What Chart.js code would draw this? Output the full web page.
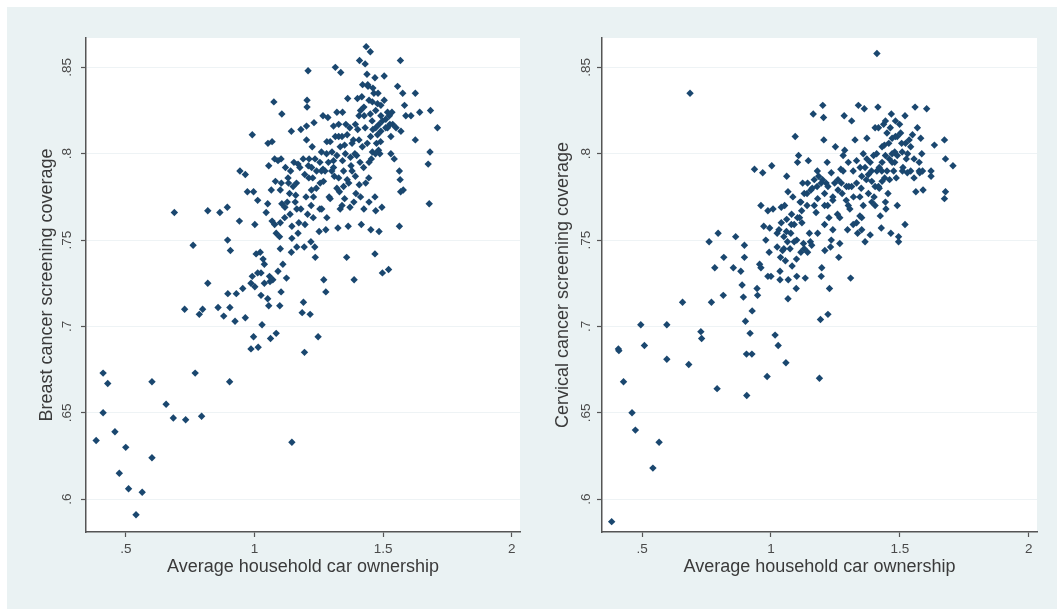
<!DOCTYPE html>
<html>
<head>
<meta charset="utf-8">
<script src="https://cdn.jsdelivr.net/npm/chart.js@4.4.1/dist/chart.umd.min.js"></script>
<style>
  html, body { margin: 0; padding: 0; background: #ffffff; }
  #frame { position: absolute; left: 7px; top: 7px; width: 1050px; height: 602px; background: #eaf2f3; }
  .panel { position: absolute; top: 7px; height: 602px; }
  #leftPanel { left: 7px; width: 523px; }
  #rightPanel { left: 530px; width: 527px; }
</style>
</head>
<body>
<div id="frame"></div>
<div class="panel" id="leftPanel"><canvas id="breastChart"></canvas></div>
<div class="panel" id="rightPanel"><canvas id="cervicalChart"></canvas></div>
<script>
// Dữ liệu: [car ownership, coverage]
const xTitle = 'Average household car ownership';
const breastTitle = 'Breast cancer screening coverage';
const cervicalTitle = 'Cervical cancer screening coverage';
const xTicks = [0.5, 1, 1.5, 2];
const yTicks = [0.6, 0.65, 0.7, 0.75, 0.8, 0.85];

const breastPoints = [
  [0.384,0.634],[0.411,0.673],[0.429,0.667],[0.411,0.650],[0.457,0.639],[0.499,0.630],[0.474,0.615],[0.510,0.606],
  [0.563,0.604],[0.539,0.591],[0.601,0.668],[0.601,0.624],[0.656,0.655],[0.684,0.647],[0.732,0.646],[0.794,0.648],
  [0.769,0.673],[0.688,0.766],[0.761,0.747],[0.728,0.710],[0.798,0.710],[0.785,0.707],[0.818,0.725],[0.818,0.767],
  [0.865,0.766],[0.894,0.769],[0.895,0.750],[0.906,0.744],[0.858,0.711],[0.880,0.706],[0.896,0.719],[0.904,0.711],
  [0.903,0.668],[0.924,0.703],[0.943,0.790],[0.964,0.788],[0.941,0.761],[0.929,0.719],[0.954,0.722],[0.964,0.705],
  [0.972,0.778],[0.996,0.778],[0.986,0.725],[0.991,0.729],[0.991,0.811],[0.996,0.694],[0.986,0.687],[1.014,0.688],
  [1.001,0.759],[1.001,0.723],[1.006,0.742],[1.012,0.731],[1.012,0.773],[1.022,0.743],[1.025,0.718],[1.038,0.736],
  [1.033,0.739],[1.029,0.701],[1.045,0.766],[1.051,0.771],[1.055,0.793],[1.058,0.729],[1.055,0.712],[1.060,0.726],
  [1.052,0.806],[1.068,0.807],[1.062,0.693],[1.084,0.696],[1.075,0.830],[1.081,0.784],[1.065,0.779],[1.068,0.761],
  [1.078,0.759],[1.078,0.797],[1.091,0.796],[1.084,0.754],[1.097,0.752],[1.100,0.745],[1.103,0.720],[1.098,0.712],
  [1.106,0.823],[1.103,0.797],[1.100,0.779],[1.106,0.771],[1.118,0.769],[1.124,0.728],[1.132,0.783],[1.130,0.786],
  [1.138,0.765],[1.143,0.813],[1.145,0.751],[1.145,0.758],[1.145,0.633],[1.153,0.795],[1.158,0.772],[1.164,0.746],
  [1.164,0.768],[1.169,0.794],[1.172,0.760],[1.180,0.814],[1.185,0.708],[1.190,0.714],[1.194,0.685],[1.193,0.746],
  [1.195,0.788],[1.202,0.808],[1.202,0.816],[1.204,0.831],[1.208,0.848],[1.204,0.827],[1.206,0.765],[1.212,0.797],
  [1.211,0.786],[1.216,0.707],[1.219,0.749],[1.221,0.779],[1.224,0.804],[1.226,0.786],[1.229,0.775],[1.231,0.818],
  [1.234,0.746],[1.236,0.740],[1.247,0.694],[1.251,0.755],[1.254,0.768],[1.254,0.795],[1.260,0.801],[1.266,0.822],
  [1.266,0.791],[1.268,0.784],[1.269,0.727],[1.277,0.720],[1.277,0.756],[1.281,0.807],[1.285,0.821],[1.290,0.775],
  [1.294,0.774],[1.307,0.796],[1.310,0.787],[1.314,0.850],[1.320,0.824],[1.324,0.757],[1.327,0.810],[1.330,0.778],
  [1.335,0.847],[1.342,0.796],[1.346,0.790],[1.342,0.824],[1.350,0.774],[1.355,0.817],[1.358,0.740],[1.362,0.832],
  [1.364,0.758],[1.371,0.769],[1.375,0.793],[1.384,0.808],[1.387,0.727],[1.394,0.777],[1.397,0.799],[1.401,0.814],
  [1.408,0.854],[1.407,0.782],[1.412,0.825],[1.415,0.759],[1.417,0.833],[1.424,0.792],[1.426,0.822],[1.430,0.852],
  [1.434,0.862],[1.437,0.846],[1.441,0.839],[1.444,0.786],[1.450,0.859],[1.452,0.756],[1.454,0.797],[1.457,0.819],
  [1.460,0.814],[1.464,0.835],[1.468,0.844],[1.468,0.775],[1.468,0.742],[1.471,0.767],[1.474,0.806],[1.478,0.829],
  [1.482,0.802],[1.484,0.755],[1.487,0.800],[1.491,0.822],[1.495,0.769],[1.497,0.731],[1.504,0.845],[1.510,0.815],
  [1.517,0.824],[1.521,0.733],[1.526,0.817],[1.530,0.810],[1.534,0.824],[1.543,0.797],[1.556,0.839],[1.563,0.758],
  [1.563,0.790],[1.566,0.785],[1.567,0.854],[1.568,0.778],[1.576,0.835],[1.569,0.813],[1.578,0.779],[1.583,0.828],
  [1.588,0.822],[1.608,0.822],[1.625,0.835],[1.625,0.808],[1.642,0.824],[1.675,0.794],[1.679,0.771],[1.682,0.801],
  [1.684,0.825],[1.711,0.815],
  [1.301,0.801],[1.320,0.799],[1.333,0.804],[1.353,0.800],[1.373,0.798],[1.379,0.806],[1.406,0.808],[1.419,0.804],
  [1.438,0.806],[1.451,0.810],[1.471,0.815],[1.491,0.813],[1.497,0.819],[1.517,0.815],[1.524,0.822],[1.537,0.817],
  [1.478,0.811],[1.458,0.801],[1.445,0.795],[1.432,0.783],[1.412,0.775],[1.392,0.787],[1.379,0.790],[1.366,0.783],
  [1.346,0.781],[1.327,0.786],[1.307,0.792],[1.287,0.795],[1.274,0.790],[1.255,0.783],[1.241,0.790],[1.235,0.797],
  [1.222,0.792],[1.209,0.793],[1.189,0.797],[1.176,0.792],[1.163,0.783],[1.150,0.781],[1.136,0.777],[1.127,0.772],
  [1.117,0.763],[1.104,0.783],[1.340,0.810],[1.360,0.811],[1.327,0.817],[1.307,0.816],[1.294,0.807],[1.314,0.810],
  [1.392,0.817],[1.406,0.822],[1.425,0.827],[1.445,0.831],[1.458,0.830],[1.471,0.825],[1.484,0.817],[1.504,0.831],
  [1.491,0.828],[1.051,0.716],[1.071,0.727],[1.091,0.732],[1.110,0.736],[1.025,0.731],[1.038,0.725],[1.143,0.743],
  [1.169,0.754],[1.196,0.759],[1.228,0.763],[1.261,0.768],[1.281,0.763],[1.333,0.768],[1.386,0.772],[1.425,0.768],
  [1.445,0.772],
  [1.350,0.805],[1.370,0.815],[1.390,0.800],[1.410,0.795],[1.430,0.815],[1.450,0.823],[1.470,0.800],[1.490,0.807],
  [1.510,0.820],[1.530,0.800],[1.550,0.815],[1.400,0.832],[1.420,0.840],[1.440,0.840],[1.460,0.838],[1.480,0.835],
  [1.360,0.785],[1.340,0.770],[1.320,0.780],[1.300,0.790],[1.280,0.800],[1.260,0.790],[1.240,0.780],[1.220,0.770],
  [1.200,0.775],[1.180,0.768],[1.160,0.776],[1.140,0.790],[1.120,0.792],[1.100,0.760]
];

const cervicalPoints = [
  [0.382,0.587],[0.408,0.687],[0.410,0.686],[0.428,0.668],[0.461,0.650],[0.474,0.640],[0.566,0.633],[0.542,0.618],
  [0.495,0.701],[0.509,0.689],[0.596,0.701],[0.596,0.681],[0.657,0.714],[0.681,0.678],[0.686,0.835],[0.728,0.697],
  [0.731,0.693],[0.760,0.749],[0.769,0.714],[0.782,0.734],[0.795,0.754],[0.791,0.664],[0.815,0.718],[0.817,0.740],
  [0.854,0.734],[0.863,0.752],[0.883,0.732],[0.888,0.724],[0.893,0.717],[0.897,0.747],[0.897,0.740],[0.901,0.703],
  [0.906,0.660],[0.905,0.684],[0.926,0.684],[0.919,0.696],[0.927,0.709],[0.936,0.791],[0.946,0.722],[0.948,0.718],
  [0.956,0.736],[0.961,0.734],[0.961,0.770],[0.968,0.789],[0.972,0.758],[0.980,0.750],[0.985,0.671],[0.988,0.729],
  [0.988,0.767],[0.993,0.743],[0.995,0.757],[1.000,0.729],[1.003,0.793],[1.008,0.768],[1.016,0.695],[1.024,0.746],
  [1.028,0.689],[1.031,0.756],[1.035,0.732],[1.035,0.727],[1.040,0.769],[1.045,0.744],[1.050,0.752],[1.053,0.770],
  [1.056,0.738],[1.058,0.679],[1.061,0.787],[1.061,0.762],[1.066,0.778],[1.067,0.727],[1.066,0.716],[1.074,0.745],
  [1.079,0.759],[1.082,0.735],[1.085,0.775],[1.094,0.810],[1.098,0.722],[1.099,0.739],[1.100,0.729],[1.103,0.795],
  [1.107,0.799],[1.111,0.763],[1.113,0.772],[1.119,0.767],[1.123,0.783],[1.126,0.748],[1.129,0.745],[1.133,0.728],
  [1.140,0.777],[1.145,0.796],[1.149,0.754],[1.153,0.749],[1.158,0.747],[1.164,0.823],[1.168,0.785],[1.175,0.766],
  [1.179,0.781],[1.185,0.787],[1.188,0.670],[1.192,0.704],[1.195,0.729],[1.197,0.734],[1.201,0.828],[1.204,0.821],
  [1.205,0.808],[1.208,0.770],[1.209,0.744],[1.214,0.783],[1.218,0.795],[1.221,0.707],[1.225,0.763],[1.227,0.722],
  [1.231,0.746],[1.234,0.750],[1.240,0.773],[1.250,0.804],[1.258,0.765],[1.263,0.740],[1.267,0.748],[1.271,0.791],
  [1.276,0.777],[1.284,0.822],[1.286,0.802],[1.292,0.773],[1.297,0.756],[1.302,0.781],[1.309,0.728],[1.313,0.819],
  [1.319,0.759],[1.326,0.808],[1.332,0.796],[1.336,0.754],[1.339,0.828],[1.345,0.775],[1.352,0.763],[1.358,0.800],
  [1.362,0.826],[1.365,0.749],[1.372,0.809],[1.378,0.788],[1.385,0.753],[1.391,0.772],[1.398,0.799],[1.404,0.781],
  [1.411,0.858],[1.415,0.827],[1.417,0.815],[1.420,0.792],[1.424,0.764],[1.428,0.757],[1.431,0.804],[1.437,0.817],
  [1.441,0.786],[1.446,0.768],[1.450,0.812],[1.454,0.777],[1.459,0.797],[1.465,0.754],[1.467,0.823],[1.470,0.809],
  [1.476,0.790],[1.480,0.801],[1.486,0.786],[1.490,0.770],[1.495,0.752],[1.495,0.749],[1.499,0.817],[1.507,0.806],
  [1.512,0.792],[1.520,0.822],[1.520,0.759],[1.525,0.797],[1.536,0.808],[1.542,0.790],[1.549,0.811],[1.555,0.786],
  [1.559,0.827],[1.562,0.778],[1.568,0.815],[1.575,0.795],[1.577,0.789],[1.581,0.809],[1.585,0.800],[1.590,0.779],
  [1.604,0.826],[1.621,0.790],[1.621,0.787],[1.634,0.805],[1.673,0.808],[1.677,0.797],[1.677,0.778],[1.673,0.774],
  [1.706,0.793],
  [1.313,0.781],[1.332,0.783],[1.352,0.787],[1.365,0.792],[1.385,0.795],[1.391,0.784],[1.411,0.790],[1.417,0.781],
  [1.431,0.795],[1.444,0.799],[1.457,0.806],[1.470,0.795],[1.483,0.810],[1.490,0.799],[1.503,0.812],[1.509,0.801],
  [1.522,0.806],[1.529,0.789],[1.542,0.804],[1.555,0.797],[1.575,0.790],[1.588,0.790],[1.431,0.784],[1.444,0.772],
  [1.404,0.770],[1.378,0.777],[1.358,0.770],[1.345,0.764],[1.352,0.756],[1.332,0.760],[1.293,0.781],[1.273,0.783],
  [1.260,0.779],[1.247,0.783],[1.234,0.789],[1.221,0.781],[1.208,0.777],[1.195,0.783],[1.181,0.774],[1.168,0.770],
  [1.155,0.779],[1.142,0.783],[1.129,0.777],[1.116,0.772],[1.103,0.763],[1.090,0.759],[1.077,0.754],[1.064,0.749],
  [1.050,0.745],[1.037,0.740],[1.024,0.754],[1.090,0.749],[1.116,0.743],[1.142,0.743],[1.181,0.754],[1.208,0.759],
  [1.240,0.756],[1.267,0.763],[1.306,0.768],[1.404,0.815],[1.444,0.819],[1.463,0.815],[1.483,0.819],[1.372,0.797],
  [1.346,0.792],[1.319,0.790],[1.300,0.795],[1.280,0.799],
  [1.350,0.780],[1.370,0.785],[1.390,0.790],[1.410,0.800],[1.430,0.790],[1.450,0.790],[1.470,0.800],[1.490,0.810],
  [1.510,0.790],[1.530,0.800],[1.400,0.775],[1.420,0.780],[1.440,0.805],[1.460,0.785],[1.480,0.795],[1.280,0.790],
  [1.260,0.785],[1.240,0.775],[1.220,0.770],[1.200,0.785],[1.180,0.790],[1.160,0.780],[1.140,0.770],[1.120,0.760],
  [1.100,0.750],[1.080,0.765],[1.060,0.755],[1.040,0.760],[1.300,0.770],[1.320,0.775]
];

const markerColor = '#1a476f';
const axisColor = '#555555';
const fontFamily = '"Liberation Sans", Arial, sans-serif';

// Bỏ số 0 đứng đầu kiểu Stata (.5, .85)
const stataLabel = (v) => Number(v.toFixed(2)).toString().replace(/^0\./, '.');

// Nền trắng cho vùng vẽ
const plotBackground = {
  id: 'plotBackground',
  beforeDraw(chart) {
    const { ctx, chartArea: a } = chart;
    ctx.save();
    ctx.fillStyle = '#ffffff';
    ctx.fillRect(a.left, a.top, a.right - a.left, a.bottom - a.top);
    ctx.restore();
  }
};

const buildChart = (canvasId, points, yTitle, opts) => {
  const ctx = document.getElementById(canvasId).getContext('2d');
  return new Chart(ctx, {
    type: 'scatter',
    data: {
      datasets: [{
        data: points.map(p => ({ x: p[0], y: p[1] })),
        pointStyle: 'rectRot',
        pointRadius: 3.7,
        backgroundColor: markerColor,
        borderColor: markerColor,
        borderWidth: 0
      }]
    },
    plugins: [plotBackground],
    options: {
      responsive: true,
      maintainAspectRatio: false,
      animation: false,
      layout: { padding: { left: 0, top: 31, right: opts.rightPad, bottom: 0 } },
      plugins: { legend: { display: false }, tooltip: { enabled: false } },
      scales: {
        x: {
          type: 'linear',
          min: 0.3445,
          max: 2.032,
          afterBuildTicks: (s) => { s.ticks = xTicks.map(v => ({ value: v })); },
          afterFit: (s) => { s.height = 77; },
          ticks: {
            includeBounds: false,
            padding: 4,
            color: '#4a4a4a',
            font: { family: fontFamily, size: 13.5 },
            callback: stataLabel
          },
          grid: { drawOnChartArea: false, tickLength: 5, tickColor: axisColor, tickWidth: 1.2 },
          border: { color: axisColor, width: 1.5 },
          title: {
            display: true,
            text: xTitle,
            color: '#3a3a3a',
            font: { family: fontFamily, size: 18 },
            padding: { top: 0, bottom: 31 }
          }
        },
        y: {
          type: 'linear',
          min: 0.581,
          max: 0.867,
          afterBuildTicks: (s) => { s.ticks = yTicks.map(v => ({ value: v })); },
          afterFit: (s) => { s.width = opts.yWidth; },
          ticks: {
            includeBounds: false,
            minRotation: 90,
            maxRotation: 90,
            crossAlign: 'center',
            padding: opts.tickPad,
            color: '#4a4a4a',
            font: { family: fontFamily, size: 13.5 },
            callback: stataLabel
          },
          grid: { color: '#eef3f5', lineWidth: 1, tickLength: 5, tickColor: axisColor, tickWidth: 1.2 },
          border: { color: axisColor, width: 1.5 },
          title: {
            display: true,
            text: yTitle,
            color: '#3a3a3a',
            font: { family: fontFamily, size: 18 },
            padding: { top: opts.titlePad, bottom: 0 }
          }
        }
      }
    }
  });
};

buildChart('breastChart', breastPoints, breastTitle, { yWidth: 79, rightPad: 10, tickPad: 4, titlePad: 29 });
buildChart('cervicalChart', cervicalPoints, cervicalTitle, { yWidth: 72, rightPad: 20, tickPad: 1, titlePad: 22 });
</script>
</body>
</html>
